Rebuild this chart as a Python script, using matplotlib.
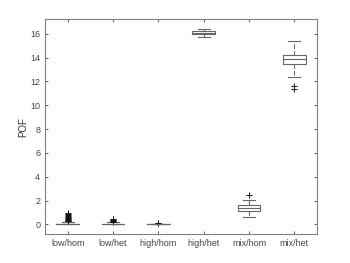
import matplotlib
matplotlib.use("Agg")
import matplotlib.pyplot as plt

# Box statistics
labels = ['low/hom', 'low/het', 'high/hom', 'high/het', 'mix/hom', 'mix/het']
whislo = [0.0, 0.0, 0.0, 15.75, 0.59, 12.34]
q1 = [0.0, 0.0, 0.0, 16.0, 1.09, 13.43]
med = [0.03, 0.03, 0.02, 16.1, 1.34, 13.87]
q3 = [0.08, 0.07, 0.04, 16.2, 1.62, 14.24]
whishi = [0.2, 0.17, 0.08, 16.36, 2.09, 15.41]
fliers = [
    [0.25, 0.3, 0.35, 0.4, 0.45, 0.5, 0.55, 0.6, 0.7, 0.8, 0.9, 1.0],
    [0.22, 0.27, 0.32, 0.37, 0.42, 0.47],
    [0.1, 0.13],
    [],
    [2.43],
    [11.58, 11.36],
]

plt.rcParams['font.family'] = ['Liberation Sans', 'DejaVu Sans']

fig = plt.figure(figsize=(3.5, 2.63), dpi=100)
ax = fig.add_axes([0.1286, 0.1103, 0.777, 0.8156])

stats = []
for i in range(len(labels)):
    stats.append({'label': labels[i], 'whislo': whislo[i], 'q1': q1[i], 'med': med[i],
                  'q3': q3[i], 'whishi': whishi[i], 'fliers': fliers[i]})

line_col = '#666666'
ax.bxp(stats, widths=0.5, showfliers=True,
       boxprops=dict(color=line_col, linewidth=0.8),
       medianprops=dict(color=line_col, linewidth=0.8),
       whiskerprops=dict(color=line_col, linewidth=0.8, linestyle=(0, (4, 2))),
       capprops=dict(color=line_col, linewidth=0.8),
       capwidths=0.26,
       flierprops=dict(marker='+', markeredgecolor='#111111', markersize=4, markeredgewidth=0.7))

ax.set_xlim(0.5, 6.5)
ax.set_ylim(-0.8, 17.2)
ax.set_yticks([0, 2, 4, 6, 8, 10, 12, 14, 16])
ax.set_ylabel('POF', fontsize=7, color='#333333', labelpad=1)
ax.tick_params(direction='in', top=True, right=True, labelsize=6.5, colors='#444444',
               length=2.5, width=0.6)
for s in ax.spines.values():
    s.set_color('#808080')
    s.set_linewidth(0.8)

fig.savefig('out.png', dpi=100)
